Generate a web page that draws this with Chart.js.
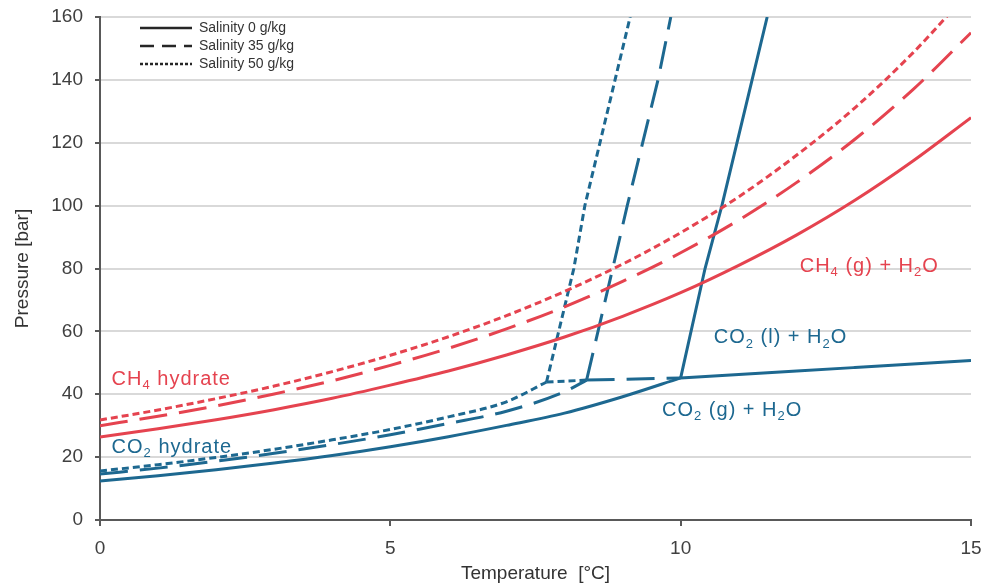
<!DOCTYPE html>
<html>
<head>
<meta charset="utf-8">
<script src="https://cdn.jsdelivr.net/npm/chart.js@4.4.1/dist/chart.umd.min.js"></script>
<style>
  html, body { margin: 0; padding: 0; background: #fff; }
  #wrap { width: 988px; height: 588px; }
</style>
</head>
<body>
<div id="wrap"><canvas id="phaseChart" width="988" height="588"></canvas></div>
<script>
// hydrate stability curves, temperature in degC, pressure in bar
var tempSteps = [0, 1, 2, 3, 4, 5, 6, 7, 8, 9, 10, 11, 12, 13, 14, 15];
var ch4Sal0 = [26.4, 29.0, 31.9, 35.1, 38.7, 42.9, 47.4, 52.5, 58.2, 64.8, 72.3, 81.0, 90.7, 101.7, 114.2, 128.0];
var ch4Sal35 = [30.0, 33.0, 36.3, 40.1, 44.3, 49.2, 54.6, 60.8, 67.8, 75.9, 85.0, 95.4, 107.4, 121.1, 136.9, 155.0];
var ch4Sal50 = [31.8, 35.0, 38.6, 42.6, 47.2, 52.4, 58.3, 65.0, 72.7, 81.4, 91.4, 102.8, 116.1, 131.1, 148.6, 168.7];

// CO2 hydrate - gas boundary
var co2HydTemp0 = [0, 1, 2, 3, 4, 5, 6, 7, 8, 9, 10];
var co2HydPres0 = [12.4, 14.1, 16.0, 18.1, 20.5, 23.3, 26.5, 30.1, 34.0, 39.2, 45.2];
var co2HydTemp35 = [0, 1, 2, 3, 4, 5, 6, 7, 8, 8.38];
var co2HydPres35 = [14.6, 16.5, 18.7, 21.2, 24.0, 27.1, 30.7, 34.6, 40.8, 44.5];
var co2HydTemp50 = [0, 1, 2, 3, 4, 5, 6, 7, 7.69];
var co2HydPres50 = [15.6, 17.6, 19.9, 22.5, 25.5, 28.8, 32.8, 37.6, 43.9];

// CO2 gas - liquid line
var co2LvTemp0 = [10, 11, 12, 13, 14, 15];
var co2LvPres0 = [45.2, 46.3, 47.4, 48.5, 49.6, 50.7];
var co2LvTemp35 = [8.38, 10];
var co2LvPres35 = [44.5, 45.2];
var co2LvTemp50 = [7.69, 8.38];
var co2LvPres50 = [43.9, 44.5];

// CO2 hydrate - liquid boundary
var co2LiqPres = [80, 100, 140, 160];
var co2LiqTemp0 = [10.42, 10.71, 11.23, 11.49];
var co2LiqTemp35 = [8.83, 9.08, 9.61, 9.83];
var co2LiqTemp50 = [8.16, 8.35, 8.87, 9.13];

var legendLabels = ['Salinity 0 g/kg', 'Salinity 35 g/kg', 'Salinity 50 g/kg'];

var RED = '#e5434f';
var BLUE = '#1d6890';
var DASHED = [28, 12];
var DOTTED = [7, 4];
var FONT = "'Liberation Sans', Arial, sans-serif";

function toPoints(xs, ys) {
  var pts = [];
  for (var i = 0; i < xs.length; i++) {
    pts.push({ x: xs[i], y: ys[i] });
  }
  return pts;
}

function line(label, pts, color, dash, smooth) {
  return {
    label: label,
    data: pts,
    borderColor: color,
    borderWidth: 3,
    borderDash: dash,
    borderCapStyle: 'butt',
    pointRadius: 0,
    showLine: true,
    fill: false,
    cubicInterpolationMode: smooth ? 'monotone' : 'default',
    tension: 0
  };
}

var datasets = [
  line('CH4 0', toPoints(tempSteps, ch4Sal0), RED, [], true),
  line('CH4 35', toPoints(tempSteps, ch4Sal35), RED, DASHED, true),
  line('CH4 50', toPoints(tempSteps, ch4Sal50), RED, DOTTED, true),
  line('CO2 hyd 0', toPoints(co2HydTemp0, co2HydPres0), BLUE, [], true),
  line('CO2 hyd 35', toPoints(co2HydTemp35, co2HydPres35), BLUE, DASHED, true),
  line('CO2 hyd 50', toPoints(co2HydTemp50, co2HydPres50), BLUE, DOTTED, true),
  line('CO2 lv 0', toPoints(co2LvTemp0, co2LvPres0), BLUE, [], true),
  line('CO2 lv 35', toPoints(co2LvTemp35, co2LvPres35), BLUE, DASHED, false),
  line('CO2 lv 50', toPoints(co2LvTemp50, co2LvPres50), BLUE, DOTTED, false),
  line('CO2 liq 0', toPoints([co2HydTemp0[10]].concat(co2LiqTemp0), [co2HydPres0[10]].concat(co2LiqPres)), BLUE, [], false),
  line('CO2 liq 35', toPoints([co2HydTemp35[9]].concat(co2LiqTemp35), [co2HydPres35[9]].concat(co2LiqPres)), BLUE, DASHED, false),
  line('CO2 liq 50', toPoints([co2HydTemp50[8]].concat(co2LiqTemp50), [co2HydPres50[8]].concat(co2LiqPres)), BLUE, DOTTED, false)
];

// region labels, parts flagged 1 are subscripts
var regionLabels = [
  { parts: [['CH', 0], ['4', 1], [' hydrate', 0]], t: 0.2, p: 44.8, color: RED },
  { parts: [['CO', 0], ['2', 1], [' hydrate', 0]], t: 0.2, p: 23.2, color: BLUE },
  { parts: [['CH', 0], ['4', 1], [' (g) + H', 0], ['2', 1], ['O', 0]], t: 12.05, p: 80.8, color: RED },
  { parts: [['CO', 0], ['2', 1], [' (l) + H', 0], ['2', 1], ['O', 0]], t: 10.57, p: 57.9, color: BLUE },
  { parts: [['CO', 0], ['2', 1], [' (g) + H', 0], ['2', 1], ['O', 0]], t: 9.68, p: 34.7, color: BLUE }
];

var labelPlugin = {
  id: 'regionLabels',
  afterDatasetsDraw: function(chart) {
    var ctx = chart.ctx;
    var xs = chart.scales.x;
    var ys = chart.scales.y;
    ctx.save();
    ctx.textBaseline = 'middle';
    ctx.letterSpacing = '1px';
    regionLabels.forEach(function(lbl) {
      var x = xs.getPixelForValue(lbl.t);
      var y = ys.getPixelForValue(lbl.p);
      ctx.fillStyle = lbl.color;
      lbl.parts.forEach(function(part) {
        if (part[1]) {
          ctx.font = '13px ' + FONT;
          ctx.fillText(part[0], x, y + 6);
        } else {
          ctx.font = '20px ' + FONT;
          ctx.fillText(part[0], x, y);
        }
        x += ctx.measureText(part[0]).width;
      });
    });
    ctx.restore();
  }
};

var legendPlugin = {
  id: 'salinityLegend',
  afterDraw: function(chart) {
    var ctx = chart.ctx;
    var area = chart.chartArea;
    var dashes = [[], [14, 8], [3, 2]];
    ctx.save();
    ctx.font = '14px ' + FONT;
    ctx.textBaseline = 'middle';
    legendLabels.forEach(function(text, i) {
      var y = area.top + 11 + i * 18;
      var x = area.left + 40;
      ctx.strokeStyle = '#262626';
      ctx.lineWidth = 2.5;
      ctx.setLineDash(dashes[i]);
      ctx.beginPath();
      ctx.moveTo(x, y);
      ctx.lineTo(x + 52, y);
      ctx.stroke();
      ctx.fillStyle = '#333';
      ctx.fillText(text, x + 59, y);
    });
    ctx.restore();
  }
};

new Chart(document.getElementById('phaseChart'), {
  type: 'scatter',
  data: { datasets: datasets },
  plugins: [labelPlugin, legendPlugin],
  options: {
    responsive: false,
    animation: false,
    layout: { padding: { top: 17, right: 17, left: 0, bottom: 0 } },
    plugins: {
      legend: { display: false },
      tooltip: { enabled: false }
    },
    scales: {
      x: {
        type: 'linear',
        min: 0,
        max: 15,
        afterFit: function(scale) {
          scale.height = 68;
          scale.paddingLeft = 0;
          scale.paddingRight = 0;
        },
        ticks: { stepSize: 5, color: '#404040', font: { family: FONT, size: 19 }, padding: 11, maxRotation: 0 },
        grid: { drawOnChartArea: false, tickLength: 6, tickColor: '#595959', lineWidth: 2 },
        border: { color: '#595959', width: 2 },
        title: { display: true, text: 'Temperature  [°C]', color: '#333', font: { family: FONT, size: 19 }, padding: { top: 0, bottom: 3 } }
      },
      y: {
        min: 0,
        max: 160,
        afterFit: function(scale) {
          scale.width = 100;
          scale.paddingTop = 0;
          scale.paddingBottom = 0;
        },
        ticks: { stepSize: 20, color: '#404040', font: { family: FONT, size: 19 }, padding: 12 },
        grid: { color: '#d9d9d9', lineWidth: 2, tickLength: 5, tickColor: '#595959' },
        border: { color: '#595959', width: 2 },
        title: { display: true, text: 'Pressure [bar]', color: '#333', font: { family: FONT, size: 19 }, padding: { top: 11, bottom: 0 } }
      }
    }
  }
});
</script>
</body>
</html>
